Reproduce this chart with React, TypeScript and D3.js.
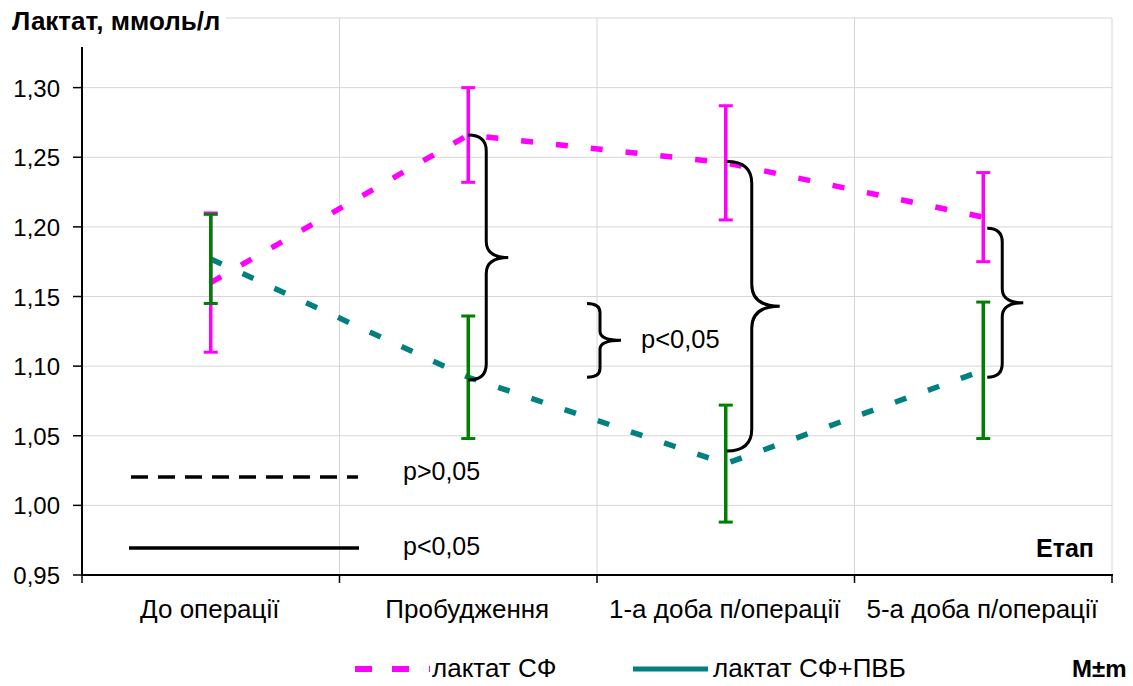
import React from 'react';
import * as d3 from 'd3';

const categories = ['До операції', 'Пробудження', '1-а доба п/операції', '5-а доба п/операції'];
const yTicks = [0.95, 1.0, 1.05, 1.1, 1.15, 1.2, 1.25, 1.3];
const gridValues = [1.0, 1.05, 1.1, 1.15, 1.2, 1.25, 1.3, 1.35];

// лактат СФ
const sfMean = [1.16, 1.266, 1.246, 1.207];
const sfErr = [0.05, 0.034, 0.041, 0.032];
// лактат СФ+ПВБ
const pvbMean = [1.177, 1.092, 1.03, 1.097];
const pvbErr = [0.032, 0.044, 0.042, 0.049];

// significance braces between the series at a stage
const braceCat = [1, 2, 3];
const braceTop = [1.266, 1.247, 1.199];
const braceBottom = [1.09, 1.039, 1.092];
// key brace next to the "p<0,05" note
const keyBraceTop = 1.145;
const keyBraceBottom = 1.092;

const FONT = "'Liberation Sans', Arial, sans-serif";
const W = 1133;
const H = 686;
const MAGENTA = '#ff00ff';
const TEAL = '#008080';
const GREEN = '#008000';
const GRID = '#d6d6d6';

const fmt = (v: number) => d3.format('.2f')(v).replace('.', ',');

function bracePath(x0: number, yTop: number, yBot: number, xs: number, xt: number, r: number) {
  const ym = (yTop + yBot) / 2;
  return [
    `M${x0},${yTop}`,
    `Q${xs},${yTop} ${xs},${yTop + r}`,
    `L${xs},${ym - r}`,
    `Q${xs},${ym} ${xt},${ym}`,
    `Q${xs},${ym} ${xs},${ym + r}`,
    `L${xs},${yBot - r}`,
    `Q${xs},${yBot} ${x0},${yBot}`,
  ].join(' ');
}

export default function App() {
  const x = d3.scaleBand<string>().domain(categories).range([82, 1112]).padding(0);
  const y = d3.scaleLinear().domain([0.95, 1.35]).range([575, 18]);
  const cx = (i: number) => (x(categories[i]) as number) + x.bandwidth() / 2;

  const line = d3
    .line<number>()
    .x((_, i) => cx(i))
    .y((d) => y(d));

  const boundaries = categories.map((c) => x(c) as number).concat([1112]);

  const braceShape = [
    { dx0: 0, spine: 18, tip: 40, r: 16 },
    { dx0: 1, spine: 26, tip: 54, r: 22 },
    { dx0: 4, spine: 19, tip: 40, r: 14 },
  ];

  const keyX = x(categories[2]) as number;

  const errorBars = (means: number[], errs: number[], color: string, key: string) =>
    means.map((m, i) => {
      const xc = cx(i);
      const y1 = y(m + errs[i]);
      const y2 = y(m - errs[i]);
      return (
        <g key={`${key}${i}`} stroke={color} strokeWidth={3.5}>
          <line x1={xc} x2={xc} y1={y1} y2={y2} />
          <line x1={xc - 7} x2={xc + 7} y1={y1} y2={y1} strokeWidth={3} />
          <line x1={xc - 7} x2={xc + 7} y1={y2} y2={y2} strokeWidth={3} />
        </g>
      );
    });

  return (
    <svg
      width={W}
      height={H}
      style={{ position: 'absolute', left: 0, top: 0, background: '#fff' }}
      fontFamily={FONT}
    >
      <rect x={0} y={0} width={W} height={H} fill="#fff" />

      {/* grid */}
      {gridValues.map((v) => (
        <line key={`h${v}`} x1={82} x2={1112} y1={y(v)} y2={y(v)} stroke={GRID} strokeWidth={1} />
      ))}
      {boundaries.slice(1).map((b, i) => (
        <line key={`v${i}`} x1={b} x2={b} y1={y(1.35)} y2={575} stroke={GRID} strokeWidth={1} />
      ))}

      {/* title with its own backing box */}
      <rect x={0} y={0} width={226} height={46} fill="#fff" />
      <text x={12} y={30} fontSize={26} fontWeight="bold" fill="#000">
        Лактат, ммоль/л
      </text>

      {/* axes */}
      <line x1={82} x2={82} y1={47} y2={576} stroke="#000" strokeWidth={2} />
      <line x1={81} x2={1113} y1={575} y2={575} stroke="#000" strokeWidth={2} />
      {yTicks.map((v) => (
        <g key={`yt${v}`}>
          <line x1={73} x2={82} y1={y(v)} y2={y(v)} stroke="#000" strokeWidth={1.5} />
          <text x={60} y={y(v) + 9} fontSize={24} textAnchor="end" fill="#000">
            {fmt(v)}
          </text>
        </g>
      ))}
      {boundaries.map((b, i) => (
        <line key={`xt${i}`} x1={b} x2={b} y1={575} y2={583} stroke="#000" strokeWidth={1.5} />
      ))}
      {categories.map((c, i) => (
        <text key={c} x={cx(i) - 1} y={618} fontSize={26} textAnchor="middle" fill="#000">
          {c}
        </text>
      ))}
      <text x={1036} y={557} fontSize={25} fontWeight="bold" fill="#000">
        Етап
      </text>

      {/* series lines */}
      <path d={line(sfMean) || ''} fill="none" stroke={MAGENTA} strokeWidth={5.5} strokeDasharray="12 23" />
      <path d={line(pvbMean) || ''} fill="none" stroke={TEAL} strokeWidth={5.5} strokeDasharray="12 23" />

      {/* M±m */}
      {errorBars(sfMean, sfErr, MAGENTA, 'sf')}
      {errorBars(pvbMean, pvbErr, GREEN, 'pvb')}

      {/* braces */}
      {braceCat.map((ci, k) => {
        const s = braceShape[k];
        const xc = cx(ci);
        return (
          <path
            key={`br${k}`}
            d={bracePath(xc + s.dx0, y(braceTop[k]), y(braceBottom[k]), xc + s.spine, xc + s.tip, s.r)}
            fill="none"
            stroke="#000"
            strokeWidth={3}
          />
        );
      })}
      <path
        d={bracePath(keyX - 10, y(keyBraceTop), y(keyBraceBottom), keyX + 3, keyX + 24, 9)}
        fill="none"
        stroke="#000"
        strokeWidth={3}
      />
      <text x={641} y={348} fontSize={25.5} fill="#000">
        p&lt;0,05
      </text>

      {/* significance key */}
      <line x1={131} x2={358} y1={477} y2={477} stroke="#000" strokeWidth={3.5} strokeDasharray="17 10" />
      <text x={403} y={480} fontSize={25} fill="#000">
        p&gt;0,05
      </text>
      <line x1={129} x2={359} y1={548} y2={548} stroke="#000" strokeWidth={3.5} />
      <text x={403} y={555} fontSize={25} fill="#000">
        p&lt;0,05
      </text>

      {/* legend */}
      <line x1={355} x2={430} y1={669} y2={669} stroke={MAGENTA} strokeWidth={6} strokeDasharray="17 20" />
      <text x={432} y={677} fontSize={26} fill="#000">
        лактат СФ
      </text>
      <line x1={633} x2={708} y1={669} y2={669} stroke={TEAL} strokeWidth={5} />
      <text x={713} y={677} fontSize={26} fill="#000">
        лактат СФ+ПВБ
      </text>
      <text x={1072} y={677} fontSize={24} fontWeight="bold" fill="#000">
        M±m
      </text>
    </svg>
  );
}
